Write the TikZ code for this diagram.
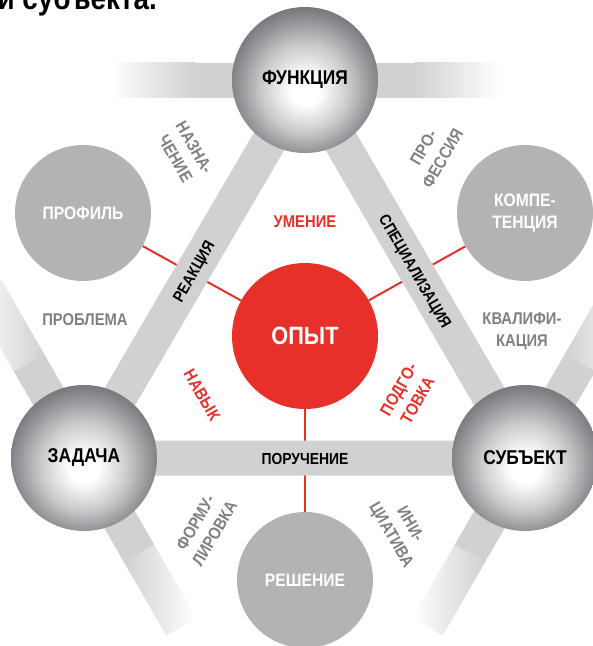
\documentclass[tikz,border=0pt]{standalone}
\usepackage{fontspec}
\newfontfamily\cf{Liberation Sans}[FakeStretch=0.87]
\definecolor{bandgray}{HTML}{D1D1D1}
\definecolor{outgray}{HTML}{B3B3B3}
\definecolor{lblgray}{HTML}{808080}
\definecolor{redc}{HTML}{E8302A}
\definecolor{sphmid}{HTML}{C9CACC}
\definecolor{sphedge}{HTML}{909194}
\definecolor{sphdark}{HTML}{76777A}
\pgfdeclareradialshading{sph}{\pgfpoint{0bp}{-4bp}}{color(0bp)=(white); color(5bp)=(white); color(15bp)=(sphmid); color(23bp)=(sphedge); color(27bp)=(sphdark); color(50bp)=(sphdark)}
\pgfdeclarelayer{redl}
\pgfdeclarelayer{bands}
\pgfsetlayers{redl,bands,main}
\newcommand\fadeband{%
  \fill[bandgray] (-112,-17.5) rectangle (112,17.5);
  \shade[left color=white, right color=bandgray] (-195,-17.5) rectangle (-110,17.5);
  \shade[left color=bandgray, right color=white] (110,-17.5) rectangle (195,17.5);
}
\begin{document}
\begin{tikzpicture}[x=1pt,y=-1pt,
  sphere/.style={circle, minimum size=146pt, inner sep=0pt, shade, shading=sph, text=black,
    font=\cf\bfseries\fontsize{20}{24}\selectfont},
  outc/.style={circle, minimum size=136pt, inner sep=0pt, fill=outgray, text=white, align=center,
    font=\cf\bfseries\fontsize{18}{22}\selectfont},
  core/.style={circle, minimum size=146pt, inner sep=0pt, fill=redc, text=white,
    font=\cf\bfseries\fontsize{25}{30}\selectfont},
  glbl/.style={inner sep=0pt, align=center, text=lblgray, font=\cf\bfseries\fontsize{17}{22}\selectfont},
  rlbl/.style={inner sep=0pt, align=center, text=redc, font=\cf\bfseries\fontsize{17}{22}\selectfont},
  blbl/.style={inner sep=0pt, align=center, text=black, font=\cf\bfseries\fontsize{16}{20}\selectfont},
  redline/.style={draw=redc, line width=2pt},
  band/.style={draw=bandgray, line width=35pt}
]
\useasboundingbox (0,0) rectangle (593,646);
\clip (0,0) rectangle (593,646);

% heading (cut off at top)
\node[anchor=base east, inner sep=0pt, font=\cf\bfseries\fontsize{32}{36}\selectfont] (head) at (157,9) {и субъекта.};

% main nodes
\node[sphere] (F) at (305,80) {ФУНКЦИЯ};
\node[sphere] (Z) at (84,458) {ЗАДАЧА};
\node[sphere] (S) at (525,458) {СУБЪЕКТ};
\node[core] (O) at (305,336) {ОПЫТ};
\node[outc] (P) at (83,213) {ПРОФИЛЬ};
\node[outc] (K) at (525,213) {КОМПЕ-\\ТЕНЦИЯ};
\node[outc] (R) at (305,580) {РЕШЕНИЕ};

% red connectors
\begin{pgfonlayer}{redl}
\draw[redline] (P) -- (O);
\draw[redline] (K) -- (O);
\draw[redline] (R) -- (O);
\end{pgfonlayer}

% bands
\begin{pgfonlayer}{bands}
\draw[band] (F.center) -- (Z.center) -- (S.center) -- cycle;
\begin{scope}[shift={(F.center)}] \fadeband \end{scope}
\begin{scope}[shift={(Z.center)}, rotate=-60] \fadeband \end{scope}
\begin{scope}[shift={(S.center)}, rotate=60] \fadeband \end{scope}
\end{pgfonlayer}

% band labels
\node[blbl, rotate=60] (reak) at (195,272) {РЕАКЦИЯ};
\node[blbl, rotate=-60] (spec) at (414,272) {СПЕЦИАЛИЗАЦИЯ};
\node[blbl] (poruch) at (305,459) {ПОРУЧЕНИЕ};

% red labels
\node[rlbl] (umen) at (305,222) {УМЕНИЕ};
\node[rlbl, rotate=-60] (navyk) at (202,395) {НАВЫК};
\node[rlbl, rotate=60] (podg) at (408,395) {ПОДГО-\\ТОВКА};

% gray labels
\node[glbl, rotate=-60] (nazn) at (185,153) {НАЗНА-\\ЧЕНИЕ};
\node[glbl, rotate=60] (prof) at (433,153) {ПРО-\\ФЕССИЯ};
\node[glbl] (probl) at (85,320) {ПРОБЛЕМА};
\node[glbl] (kval) at (522,331) {КВАЛИФИ-\\КАЦИЯ};
\node[glbl, rotate=60] (form) at (205,528) {ФОРМУ-\\ЛИРОВКА};
\node[glbl, rotate=-60] (ini) at (400,530) {ИНИ-\\ЦИАТИВА};
\end{tikzpicture}
\end{document}
